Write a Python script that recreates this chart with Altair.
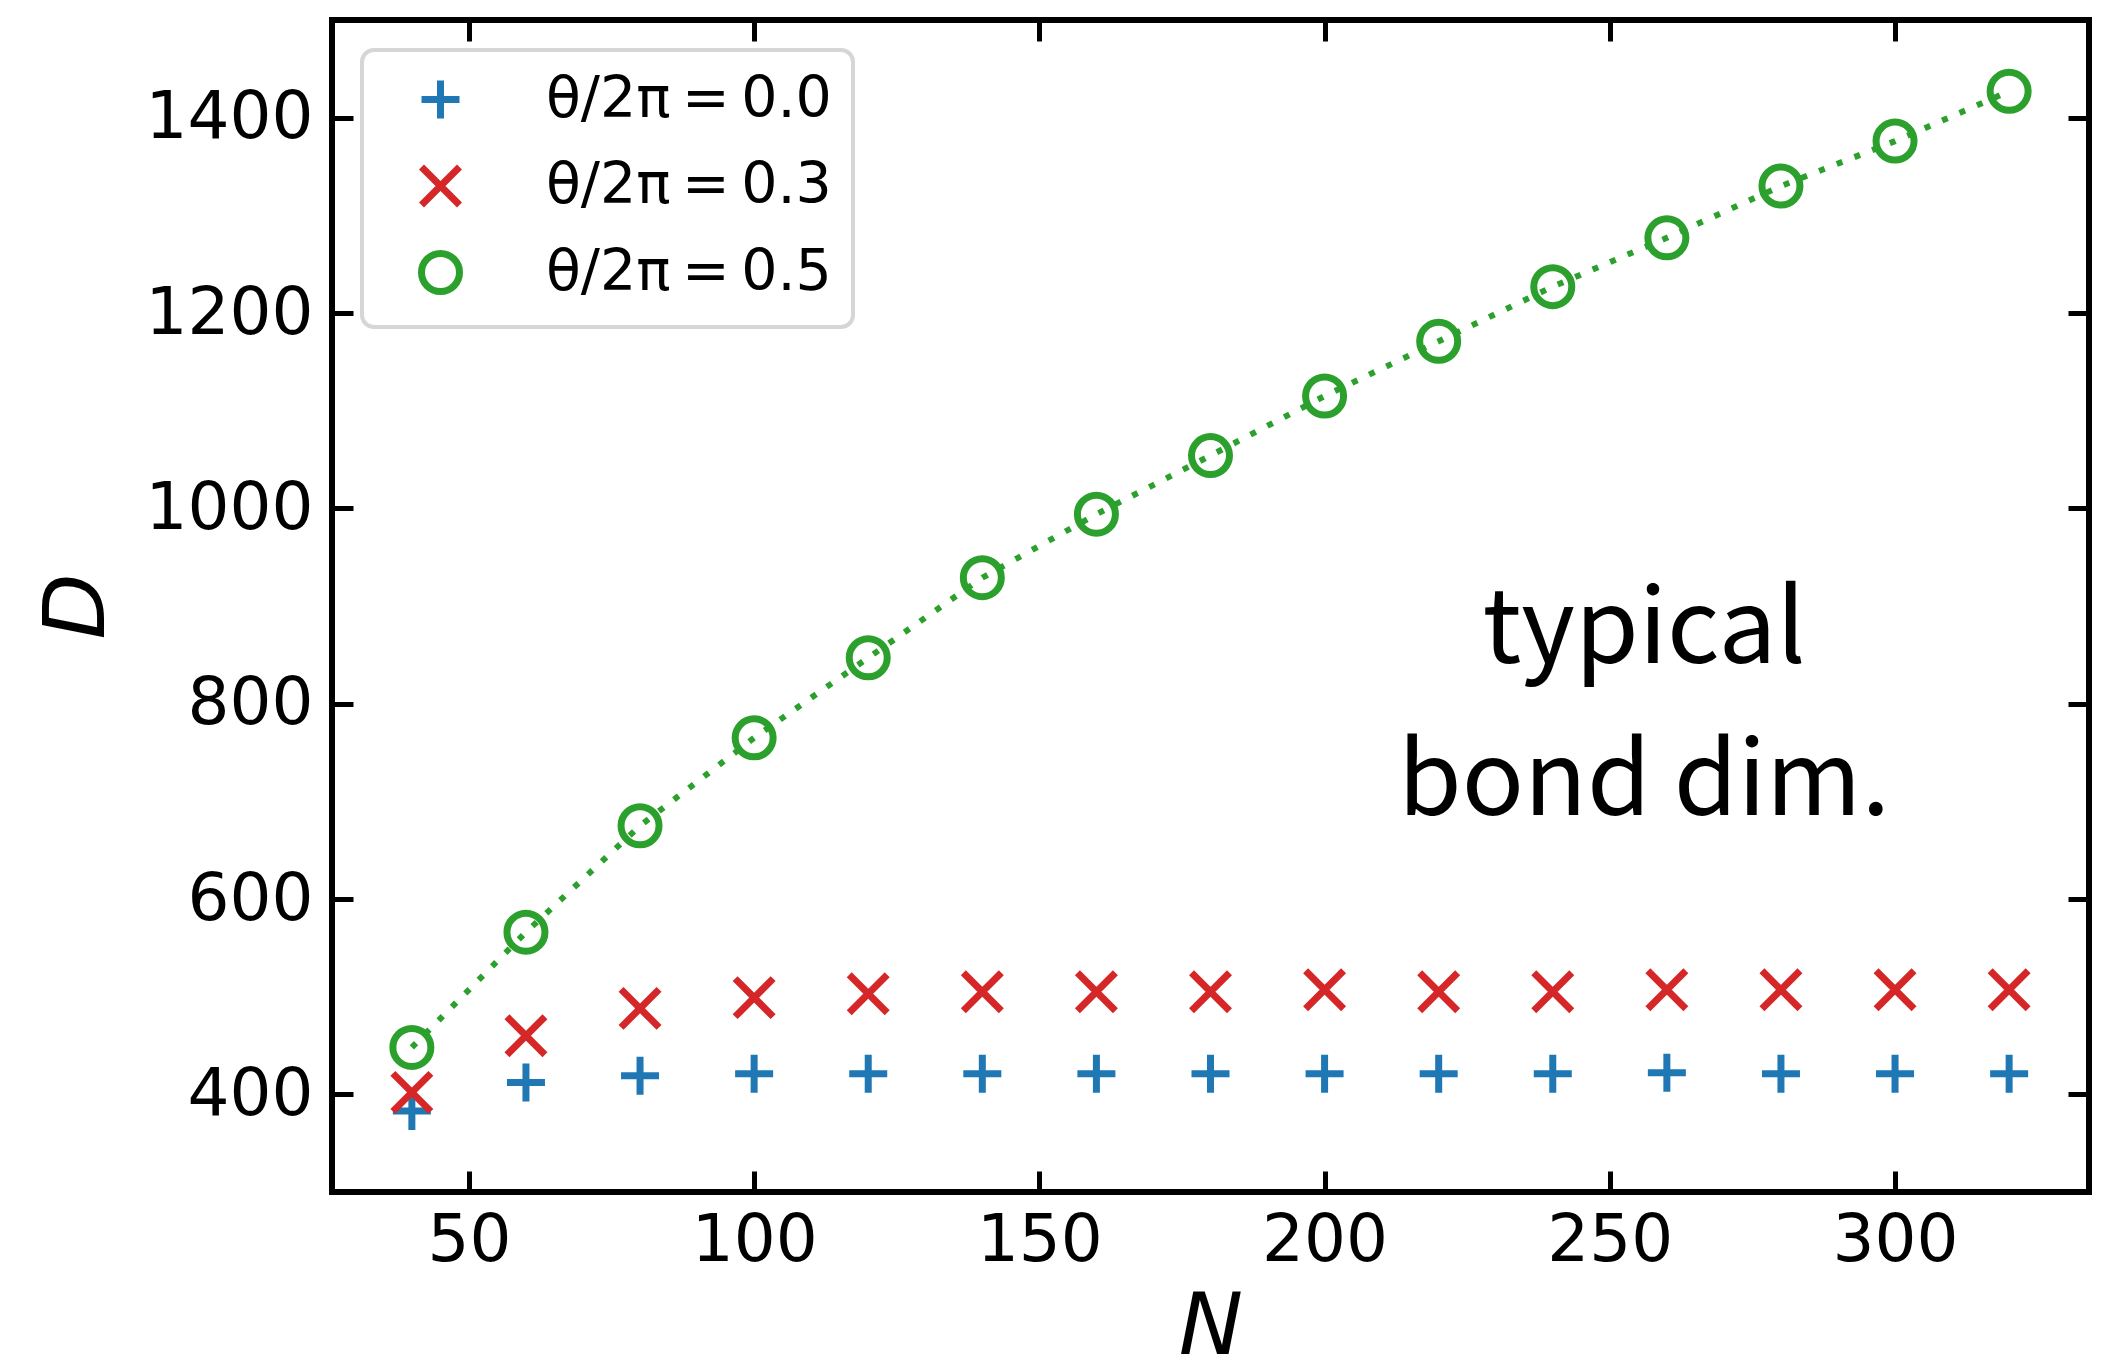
import altair as alt
import pandas as pd

# ---- data ----
N_VALUES = [40, 60, 80, 100, 120, 140, 160, 180, 200, 220, 240, 260, 280, 300, 320]
D_THETA_00 = [383, 412, 419, 421, 421, 421, 421, 421, 421, 421, 421, 422, 421, 421, 421]
D_THETA_03 = [402, 460, 488, 499, 503, 505, 505, 505, 507, 505, 505, 507, 507, 507, 507]
D_THETA_05 = [448, 566, 675, 765, 847, 929, 994, 1054, 1115, 1171, 1227, 1277, 1330, 1376, 1427]
SERIES_LABELS = ["θ/2π\u2009=\u20090.0", "θ/2π\u2009=\u20090.3", "θ/2π\u2009=\u20090.5"]
SERIES_COLORS = ["#1f77b4", "#d62728", "#2ca02c"]
SERIES_SHAPES = ["M-1,0H1M0,-1V1", "M-1,-1L1,1M-1,1L1,-1", "circle"]
X_TICKS = [50, 100, 150, 200, 250, 300]
Y_TICKS = [400, 600, 800, 1000, 1200, 1400]
X_DOMAIN = [26, 334]
Y_DOMAIN = [300, 1500]
ANNOT_TEXT = ["typical", "bond dim."]
ANNOT_N = [256]
ANNOT_D = [842]

W, H = 1757, 1172

rows = []
for lab, vals in zip(SERIES_LABELS, [D_THETA_00, D_THETA_03, D_THETA_05]):
    for n, d in zip(N_VALUES, vals):
        rows.append({"N": n, "D": d, "series": lab})
df = pd.DataFrame(rows)
df_line = df[df["series"] == SERIES_LABELS[2]]
df_annot = pd.DataFrame({"N": ANNOT_N, "D": ANNOT_D, "t": ["\n".join(ANNOT_TEXT)]})

xscale = alt.Scale(domain=X_DOMAIN, nice=False, zero=False)
yscale = alt.Scale(domain=Y_DOMAIN, nice=False, zero=False)


def tick_axis(orient, offset, values):
    return alt.Axis(orient=orient, offset=offset, values=values, labels=False,
                    domain=False, grid=False, ticks=True, tickSize=21,
                    tickWidth=5, tickColor="black", title=None)


x_main = alt.Axis(orient="bottom", values=X_TICKS, format="d", ticks=False, tickSize=0,
                  domain=False, grid=False, labelFont="DejaVu Sans",
                  labelFontSize=66, labelColor="black", labelPadding=16,
                  labelFlush=False, labelOverlap=False, labelLimit=0,
                  title="N", titleFont="DejaVu Sans", titleFontSize=86,
                  titleFontStyle="italic", titleFontWeight="normal",
                  titleColor="black", titleBaseline="alphabetic", titleY=161)
y_main = alt.Axis(orient="left", values=Y_TICKS, format="d", ticks=False, tickSize=0,
                  domain=False, grid=False, labelFont="DejaVu Sans",
                  labelFontSize=66, labelColor="black", labelPadding=19,
                  labelOverlap=False, labelLimit=0,
                  title="D", titleFont="DejaVu Sans", titleFontSize=86,
                  titleFontStyle="italic", titleFontWeight="normal",
                  titleColor="black", titleAngle=270,
                  titleBaseline="alphabetic", titleX=-229)

legend = alt.Legend(orient="none", legendX=30, legendY=30, title=None,
                    labelFont="DejaVu Sans", labelFontSize=57, labelColor="black",
                    symbolSize=1444, symbolStrokeWidth=7, padding=21,
                    rowPadding=19.5, symbolOffset=29, labelOffset=77,
                    strokeColor="#d6d6d6", fillColor="white", cornerRadius=12,
                    labelLimit=0)

line = alt.Chart(df_line).mark_line(
    color=SERIES_COLORS[2], strokeWidth=6, strokeDash=[6, 13], strokeCap="butt"
).encode(
    x=alt.X("N:Q", scale=xscale, axis=tick_axis("top", -H, X_TICKS)),
    y=alt.Y("D:Q", scale=yscale, axis=tick_axis("right", -W, Y_TICKS)),
)

points = alt.Chart(df).mark_point(
    filled=False, size=1444, strokeWidth=7, opacity=1
).encode(
    x=alt.X("N:Q", scale=xscale, axis=x_main),
    y=alt.Y("D:Q", scale=yscale, axis=y_main),
    color=alt.Color("series:N", scale=alt.Scale(domain=SERIES_LABELS, range=SERIES_COLORS), legend=legend),
    shape=alt.Shape("series:N", scale=alt.Scale(domain=SERIES_LABELS, range=SERIES_SHAPES), legend=legend),
    order=alt.Order("series:N"),
)

ghost = alt.Chart(df_line).mark_point(opacity=0).encode(
    x=alt.X("N:Q", scale=xscale, axis=tick_axis("bottom", -H, X_TICKS)),
    y=alt.Y("D:Q", scale=yscale, axis=tick_axis("left", -W, Y_TICKS)),
)

annot = alt.Chart(df_annot).mark_text(
    font="Noto Sans CJK JP", fontSize=103, color="black", align="center",
    baseline="alphabetic", lineBreak="\n", lineHeight=152
).encode(
    x=alt.X("N:Q", scale=xscale, axis=None),
    y=alt.Y("D:Q", scale=yscale, axis=None),
    text="t:N",
)

chart = alt.layer(line, points, ghost, annot).resolve_axis(
    x="independent", y="independent"
).properties(
    width=W, height=H,
    autosize=alt.AutoSizeParams(type="none"),
    padding={"left": 332, "top": 20, "right": 26, "bottom": 163},
    background="white",
).configure_view(
    stroke="black", strokeWidth=6
).configure_legend(strokeWidth=4)

chart.save("out.html", embed_options={"renderer": "svg", "actions": False})
